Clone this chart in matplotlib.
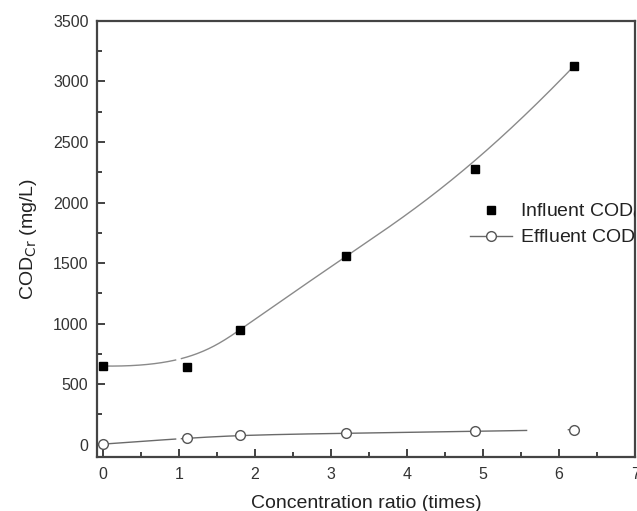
import numpy as np
import matplotlib
matplotlib.use('Agg')
import matplotlib.pyplot as plt
from matplotlib.ticker import MultipleLocator

plt.rcParams['font.family'] = ['Liberation Sans', 'DejaVu Sans']

# data
ratio = [0, 1.1, 1.8, 3.2, 4.9, 6.2]
influent = [650, 640, 950, 1560, 2280, 3130]
effluent = [5, 55, 80, 95, 110, 125]


def bspline(px, py, num=300, k=3):
    # clamped cubic B-spline using the data points as control points
    px, py = np.asarray(px, float), np.asarray(py, float)
    n = len(px)
    knots = np.concatenate([np.zeros(k), np.linspace(0, 1, n - k + 1), np.ones(k)])
    t = np.linspace(0, 1 - 1e-9, num)
    # basis functions, Cox-de Boor
    B = np.array([((knots[i] <= t) & (t < knots[i + 1])).astype(float)
                  for i in range(len(knots) - 1)])
    for d in range(1, k + 1):
        Bn = np.zeros((len(knots) - 1 - d, num))
        for i in range(len(knots) - 1 - d):
            a = knots[i + d] - knots[i]
            b = knots[i + d + 1] - knots[i + 1]
            left = (t - knots[i]) / a * B[i] if a > 0 else 0
            right = (knots[i + d + 1] - t) / b * B[i + 1] if b > 0 else 0
            Bn[i] = left + right
        B = Bn
    return B.T @ px, B.T @ py


fig = plt.figure(figsize=(6.37, 5.11), dpi=100)
ax = fig.add_axes([0.152, 0.106, 0.845, 0.853])

x_in, y_in = bspline(ratio, influent)
gap = (x_in > 0.97) & (x_in < 1.03)
ax.plot(x_in, np.where(gap, np.nan, y_in), color='#8a8a8a', lw=1.0, zorder=2)

x_ef, y_ef = bspline(ratio, effluent)
gap = ((x_ef > 0.97) & (x_ef < 1.03)) | ((x_ef > 5.6) & (x_ef < 6.1))
ax.plot(x_ef, np.where(gap, np.nan, y_ef), color='#6a6a6a', lw=1.0, zorder=2)

ax.plot(ratio, influent, 's', color='black', ms=6, zorder=3)
ax.plot(ratio, effluent, 'o', mfc='white', mec='#555555', mew=1.0, ms=7, zorder=3)

# legend
h1, = ax.plot([], [], 's', color='black', ms=6)
h2, = ax.plot([], [], '-o', color='#6a6a6a', mfc='white', mec='#555555', ms=7, lw=1.0)
leg = ax.legend([h1, h2], ['Influent COD$_{\\mathrm{Cr}}$', 'Effluent COD$_{\\mathrm{Cr}}$'],
                loc='upper left', bbox_to_anchor=(470 / 637, 1 - 202 / 511),
                bbox_transform=fig.transFigure, frameon=False, fontsize=14,
                handlelength=2.15, handletextpad=0.4, labelspacing=0.3,
                borderpad=0, borderaxespad=0)
for t in leg.get_texts():
    t.set_color('#222222')
    t.set_clip_box(ax.bbox)
    t.set_clip_on(True)

ax.set_xlim(-0.08, 7)
ax.set_ylim(-100, 3500)
ax.xaxis.set_major_locator(MultipleLocator(1))
ax.xaxis.set_minor_locator(MultipleLocator(0.5))
ax.yaxis.set_major_locator(MultipleLocator(500))
ax.yaxis.set_minor_locator(MultipleLocator(250))
ax.tick_params(which='both', direction='in', colors='#333333', labelsize=11.5, width=1.3)
ax.tick_params(which='major', length=6)
ax.tick_params(which='minor', length=3.5)
ax.tick_params(axis='x', pad=7)
ax.tick_params(axis='y', pad=6)
for s in ax.spines.values():
    s.set_color('#444444')
    s.set_linewidth(1.6)

ax.set_xlabel('Concentration ratio (times)', fontsize=14, color='#222222', labelpad=10)
ax.set_ylabel('COD$_{\\mathrm{Cr}}$ (mg/L)', fontsize=14, color='#222222', labelpad=10)

fig.savefig('out.png', dpi=100)
